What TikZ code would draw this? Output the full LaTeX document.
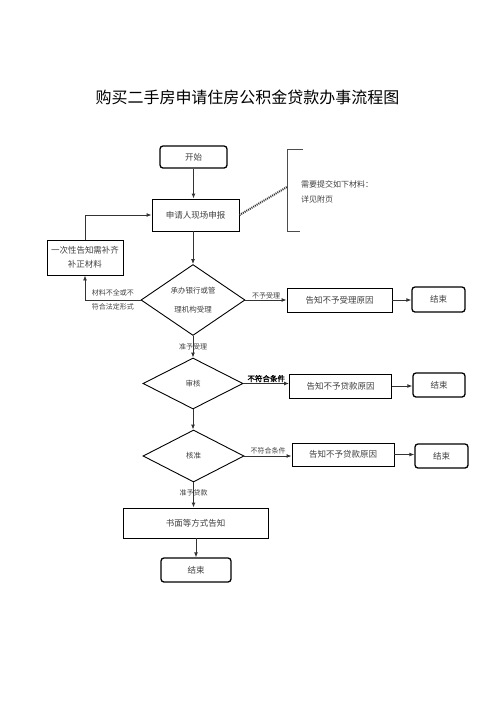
\documentclass[tikz,border=0pt]{standalone}
\usepackage{fontspec}
\newfontfamily\cjk{Noto Sans CJK SC}
\newfontfamily\cjkb[FakeBold=1.2]{Noto Sans CJK SC}
\usetikzlibrary{shapes.geometric,arrows.meta}
\begin{document}
\begin{tikzpicture}[x=1pt,y=-1pt,
 every node/.style={font=\cjk},
 txt/.style={text=black!75},
 box/.style={draw=black, line width=0.9pt, inner sep=0pt, txt, font=\cjk\fontsize{8.5}{10}\selectfont},
 term/.style={box, rounded corners=3pt, line width=1.3pt},
 dia/.style={draw=black, line width=0.9pt, diamond, inner sep=0pt, txt, font=\cjk\fontsize{7.5}{19}\selectfont, align=center},
 conn/.style={draw=black!80, line width=0.9pt, -{Latex[length=5pt,width=4pt]}},
 lab/.style={font=\cjk\fontsize{7}{14}\selectfont, txt, inner sep=1pt}
]
\useasboundingbox (0,0) rectangle (496,702);
\node[font=\cjk\fontsize{16}{18}\selectfont] (title) at (247.5,97) {购买二手房申请住房公积金贷款办事流程图};

\node[term, minimum width=67pt, minimum height=22pt] (start) at (193.5,157) {开始};
\node[box, minimum width=87pt, minimum height=32pt] (apply) at (195.5,215) {申请人现场申报};
\node[box, minimum width=76pt, minimum height=35pt, align=center, font=\cjk\fontsize{8.5}{14}\selectfont] (notify) at (85,257.5) {一次性告知需补齐\\补正材料};

\node[dia, minimum width=104pt, minimum height=60pt] (d1) at (193,300) {承办银行或管\\理机构受理};
\node[box, minimum width=105pt, minimum height=24pt] (rej1) at (339.5,300) {告知不予受理原因};
\node[term, minimum width=53pt, minimum height=25pt] (end1) at (438.5,299.5) {结束};

\node[dia, minimum width=100pt, minimum height=51pt] (d2) at (193,383.5) {审核};
\node[box, minimum width=102pt, minimum height=24pt] (rej2) at (340.5,386) {告知不予贷款原因};
\node[term, minimum width=52pt, minimum height=24pt] (end2) at (439,385) {结束};

\node[dia, minimum width=101pt, minimum height=52pt] (d3) at (193.5,456) {核准};
\node[box, minimum width=102pt, minimum height=23pt] (rej3) at (343,454.5) {告知不予贷款原因};
\node[term, minimum width=53pt, minimum height=24pt] (end3) at (441.5,456) {结束};

\node[box, minimum width=145pt, minimum height=30pt] (final) at (195.5,523) {书面等方式告知};
\node[term, minimum width=70pt, minimum height=24pt] (end4) at (196,570) {结束};

% bracket note
\coordinate (br) at (287,187);
\draw[black!70, line width=0.8pt] (303,149) -- (287,149) -- (287,231) -- (300,231);
\node[txt, anchor=west, align=left, font=\cjk\fontsize{8}{15}\selectfont, inner sep=0pt] (note) at (301,192) {需要提交如下材料：\\详见附页};
\draw[black!80, line width=2pt, dash pattern=on 1pt off 1pt] (apply.east) -- (br);

% connectors
\draw[conn] (start.south |- start.south) -- (start.south |- apply.north);
\draw[conn] (notify.north) |- (apply.west);
\draw[conn] (apply.south -| d1.north) -- (d1.north);
\draw[conn] (d1.west) -| node[lab, pos=0.25, align=center] {材料不全或不\\符合法定形式} (notify.south);
\draw[conn] (d1.east) -- node[lab, above] {不予受理} (rej1.west);
\draw[conn] (rej1.east) -- (rej1.east -| end1.west);
\draw[conn] (d1.south) -- node[lab, pos=0.5] {准予受理} (d2.north);
\draw[conn] (d2.east) -- node[above, inner sep=1pt, font=\cjkb\fontsize{7.5}{9}\selectfont] {不符合条件} (d2.east -| rej2.west);
\draw[conn] (rej2.east) -- (rej2.east -| end2.west);
\draw[conn] (d2.south) -- (d2.south |- d3.north);
\draw[conn] (d3.east) -- node[lab, above] {不符合条件} (d3.east -| rej3.west);
\draw[conn] (rej3.east) -- (rej3.east -| end3.west);
\draw[conn] (d3.south) -- node[lab, pos=0.4] {准予贷款} (d3.south |- final.north);
\draw[conn] (final.south -| end4.north) -- (end4.north);
\end{tikzpicture}
\end{document}
